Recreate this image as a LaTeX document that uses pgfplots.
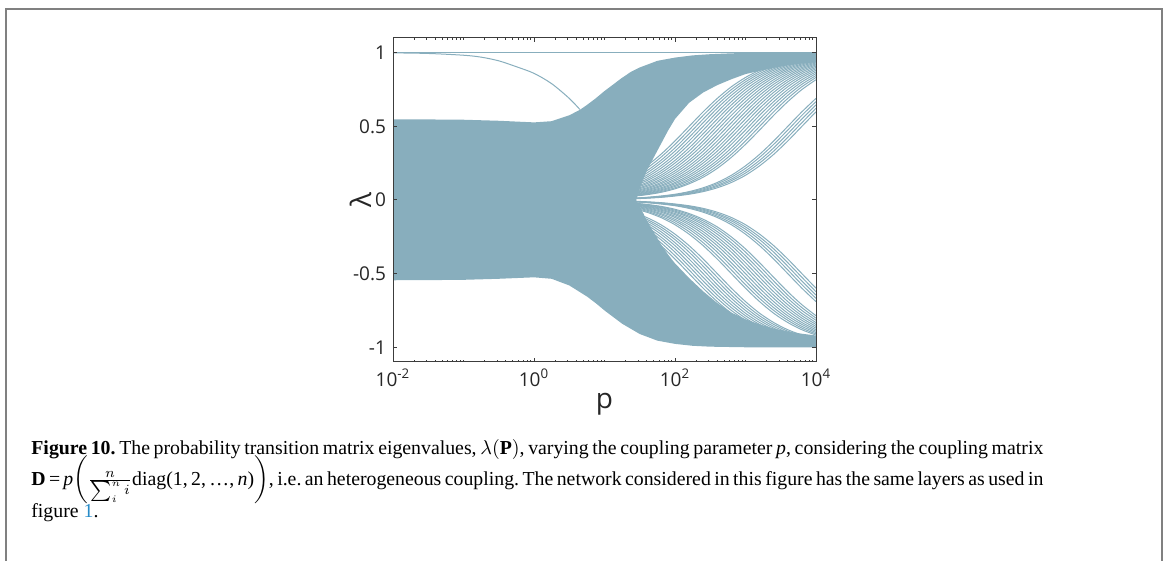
\documentclass[border=0pt]{standalone}
\usepackage{fontspec}
\setmainfont{Liberation Serif}
\newfontfamily\axfont{Open Sans}
\usepackage{pgfplots}
\pgfplotsset{compat=1.18}
\usepackage{pgfplotstable}
\definecolor{bandc}{RGB}{136,174,189}
\definecolor{framec}{RGB}{128,128,128}
\definecolor{axc}{RGB}{60,60,60}
\definecolor{linkc}{RGB}{40,140,200}

% upper fan of eigenvalue curves (p, lambda)
\pgfplotstableread{
p m22 m23 m24 m25 m26 m27 m28 m29 m30 m31 m32 m36 m37 m38
25.12 0.168 0.142 0.119 0.100 0.083 0.069 0.057 0.047 0.039 0.032 0.027 0.012 0.010 0.008
39.81 0.232 0.198 0.168 0.142 0.119 0.100 0.083 0.069 0.057 0.047 0.039 0.018 0.015 0.012
63.10 0.310 0.269 0.232 0.198 0.168 0.142 0.119 0.100 0.083 0.069 0.057 0.027 0.022 0.018
100 0.401 0.354 0.310 0.269 0.232 0.198 0.168 0.142 0.119 0.100 0.083 0.039 0.032 0.027
158.5 0.500 0.450 0.401 0.354 0.310 0.269 0.232 0.198 0.168 0.142 0.119 0.057 0.047 0.039
251.2 0.599 0.550 0.500 0.450 0.401 0.354 0.310 0.269 0.232 0.198 0.168 0.083 0.069 0.057
398.1 0.690 0.646 0.599 0.550 0.500 0.450 0.401 0.354 0.310 0.269 0.232 0.119 0.100 0.083
631.0 0.769 0.731 0.690 0.646 0.599 0.550 0.500 0.450 0.401 0.354 0.310 0.168 0.142 0.119
1000 0.832 0.802 0.769 0.731 0.690 0.646 0.599 0.550 0.500 0.450 0.401 0.232 0.198 0.168
1585 0.881 0.858 0.832 0.802 0.769 0.731 0.690 0.646 0.599 0.550 0.500 0.310 0.269 0.232
2512 0.917 0.900 0.881 0.858 0.832 0.802 0.769 0.731 0.690 0.646 0.599 0.401 0.354 0.310
3981 0.943 0.931 0.917 0.900 0.881 0.858 0.832 0.802 0.769 0.731 0.690 0.500 0.450 0.401
6310 0.961 0.953 0.943 0.931 0.917 0.900 0.881 0.858 0.832 0.802 0.769 0.599 0.550 0.500
10000 0.973 0.968 0.961 0.953 0.943 0.931 0.917 0.900 0.881 0.858 0.832 0.690 0.646 0.599
}\upperfan

\pgfplotstableread{
p m225 m235 m245 m255 m265 m275 m285 m295 m305 m315 m325 m365 m375
25.12 0.155 0.131 0.110 0.092 0.076 0.063 0.052 0.043 0.036 0.030 0.025 0.011 0.009
39.81 0.215 0.183 0.155 0.131 0.110 0.092 0.076 0.063 0.052 0.043 0.036 0.017 0.014
63.10 0.290 0.251 0.215 0.183 0.155 0.131 0.110 0.092 0.076 0.063 0.052 0.025 0.020
100 0.378 0.332 0.290 0.251 0.215 0.183 0.155 0.131 0.110 0.092 0.076 0.036 0.030
158.5 0.475 0.426 0.378 0.332 0.290 0.251 0.215 0.183 0.155 0.131 0.110 0.052 0.043
251.2 0.575 0.525 0.475 0.426 0.378 0.332 0.290 0.251 0.215 0.183 0.155 0.076 0.063
398.1 0.668 0.623 0.575 0.525 0.475 0.426 0.378 0.332 0.290 0.251 0.215 0.110 0.092
631.0 0.750 0.711 0.668 0.623 0.575 0.525 0.475 0.426 0.378 0.332 0.290 0.155 0.131
1000 0.817 0.786 0.750 0.711 0.668 0.623 0.575 0.525 0.475 0.426 0.378 0.215 0.183
1585 0.870 0.845 0.817 0.786 0.750 0.711 0.668 0.623 0.575 0.525 0.475 0.290 0.251
2512 0.909 0.891 0.870 0.845 0.817 0.786 0.750 0.711 0.668 0.623 0.575 0.378 0.332
3981 0.937 0.924 0.909 0.891 0.870 0.845 0.817 0.786 0.750 0.711 0.668 0.475 0.426
6310 0.957 0.948 0.937 0.924 0.909 0.891 0.870 0.845 0.817 0.786 0.750 0.575 0.525
10000 0.971 0.965 0.957 0.948 0.937 0.924 0.909 0.891 0.870 0.845 0.817 0.668 0.623
}\upperfanb

% lower fan of eigenvalue curves
\pgfplotstableread{
p m22 m23 m24 m25 m26 m28 m29 m30 m31 m32 m33 m36 m37 m38
25.12 -0.168 -0.142 -0.119 -0.100 -0.083 -0.057 -0.047 -0.039 -0.032 -0.027 -0.022 -0.012 -0.010 -0.008
39.81 -0.232 -0.198 -0.168 -0.142 -0.119 -0.083 -0.069 -0.057 -0.047 -0.039 -0.032 -0.018 -0.015 -0.012
63.10 -0.310 -0.269 -0.232 -0.198 -0.168 -0.119 -0.100 -0.083 -0.069 -0.057 -0.047 -0.027 -0.022 -0.018
100 -0.401 -0.354 -0.310 -0.269 -0.232 -0.168 -0.142 -0.119 -0.100 -0.083 -0.069 -0.039 -0.032 -0.027
158.5 -0.500 -0.450 -0.401 -0.354 -0.310 -0.232 -0.198 -0.168 -0.142 -0.119 -0.100 -0.057 -0.047 -0.039
251.2 -0.599 -0.550 -0.500 -0.450 -0.401 -0.310 -0.269 -0.232 -0.198 -0.168 -0.142 -0.083 -0.069 -0.057
398.1 -0.690 -0.646 -0.599 -0.550 -0.500 -0.401 -0.354 -0.310 -0.269 -0.232 -0.198 -0.119 -0.100 -0.083
631.0 -0.769 -0.731 -0.690 -0.646 -0.599 -0.500 -0.450 -0.401 -0.354 -0.310 -0.269 -0.168 -0.142 -0.119
1000 -0.832 -0.802 -0.769 -0.731 -0.690 -0.599 -0.550 -0.500 -0.450 -0.401 -0.354 -0.232 -0.198 -0.168
1585 -0.881 -0.858 -0.832 -0.802 -0.769 -0.690 -0.646 -0.599 -0.550 -0.500 -0.450 -0.310 -0.269 -0.232
2512 -0.917 -0.900 -0.881 -0.858 -0.832 -0.769 -0.731 -0.690 -0.646 -0.599 -0.550 -0.401 -0.354 -0.310
3981 -0.943 -0.931 -0.917 -0.900 -0.881 -0.832 -0.802 -0.769 -0.731 -0.690 -0.646 -0.500 -0.450 -0.401
6310 -0.961 -0.953 -0.943 -0.931 -0.917 -0.881 -0.858 -0.832 -0.802 -0.769 -0.731 -0.599 -0.550 -0.500
10000 -0.973 -0.968 -0.961 -0.953 -0.943 -0.917 -0.900 -0.881 -0.858 -0.832 -0.802 -0.690 -0.646 -0.599
}\lowerfan

\pgfplotstableread{
p m225 m235 m245 m255 m285 m295 m305 m315 m325 m335 m365 m375
25.12 -0.155 -0.131 -0.110 -0.092 -0.052 -0.043 -0.036 -0.030 -0.025 -0.020 -0.011 -0.009
39.81 -0.215 -0.183 -0.155 -0.131 -0.076 -0.063 -0.052 -0.043 -0.036 -0.030 -0.017 -0.014
63.10 -0.290 -0.251 -0.215 -0.183 -0.110 -0.092 -0.076 -0.063 -0.052 -0.043 -0.025 -0.020
100 -0.378 -0.332 -0.290 -0.251 -0.155 -0.131 -0.110 -0.092 -0.076 -0.063 -0.036 -0.030
158.5 -0.475 -0.426 -0.378 -0.332 -0.215 -0.183 -0.155 -0.131 -0.110 -0.092 -0.052 -0.043
251.2 -0.575 -0.525 -0.475 -0.426 -0.290 -0.251 -0.215 -0.183 -0.155 -0.131 -0.076 -0.063
398.1 -0.668 -0.623 -0.575 -0.525 -0.378 -0.332 -0.290 -0.251 -0.215 -0.183 -0.110 -0.092
631.0 -0.750 -0.711 -0.668 -0.623 -0.475 -0.426 -0.378 -0.332 -0.290 -0.251 -0.155 -0.131
1000 -0.817 -0.786 -0.750 -0.711 -0.575 -0.525 -0.475 -0.426 -0.378 -0.332 -0.215 -0.183
1585 -0.870 -0.845 -0.817 -0.786 -0.668 -0.623 -0.575 -0.525 -0.475 -0.426 -0.290 -0.251
2512 -0.909 -0.891 -0.870 -0.845 -0.750 -0.711 -0.668 -0.623 -0.575 -0.525 -0.378 -0.332
3981 -0.937 -0.924 -0.909 -0.891 -0.817 -0.786 -0.750 -0.711 -0.668 -0.623 -0.475 -0.426
6310 -0.957 -0.948 -0.937 -0.924 -0.870 -0.845 -0.817 -0.786 -0.750 -0.711 -0.575 -0.525
10000 -0.971 -0.965 -0.957 -0.948 -0.909 -0.891 -0.870 -0.845 -0.817 -0.786 -0.668 -0.623
}\lowerfanb

\begin{document}
\begin{tikzpicture}
\path[use as bounding box] (0pt,0pt) rectangle (584pt,-280.5pt);
\draw[framec, line width=1pt] (3pt,-280.5pt) -- (3pt,-4.5pt) -- (581pt,-4.5pt) -- (581pt,-280.5pt);

\begin{axis}[
  at={(196.5pt,-181pt)}, anchor=south west,
  scale only axis, width=211.5pt, height=162pt,
  xmode=log, log basis x=10,
  xmin=0.01, xmax=10000, ymin=-1.1, ymax=1.1,
  axis on top,
  /pgf/number format/assume math mode=true,
  xtick={0.01,1,100,10000},
  xticklabels={10\textsuperscript{-2},10\textsuperscript{0},10\textsuperscript{2},10\textsuperscript{4}},
  minor xtick={0.02,0.03,0.04,0.05,0.06,0.07,0.08,0.09,0.1,0.2,0.3,0.4,0.5,0.6,0.7,0.8,0.9,2,3,4,5,6,7,8,9,10,20,30,40,50,60,70,80,90,200,300,400,500,600,700,800,900,1000,2000,3000,4000,5000,6000,7000,8000,9000},
  ytick={-1,-0.5,0,0.5,1},
  yticklabels={-1,-0.5,0,0.5,1},
  tick align=inside,
  major tick length=2pt, minor tick length=1pt,
  tick style={axc, line width=0.5pt},
  axis line style={axc, line width=0.5pt},
  tick label style={font=\axfont\fontsize{9.5}{11}\selectfont, text=black!85},
  xlabel={p}, ylabel={λ},
  label style={font=\axfont\fontsize{14}{16}\selectfont, text=black!85},
  xlabel style={at={(axis description cs:0.5,-0.145)}, anchor=base},
  ylabel style={at={(axis description cs:-0.075,0.5)}, anchor=center},
]
% main eigenvalue band
\addplot[fill=bandc, draw=none] coordinates {
 (0.01,0.548) (0.0316,0.547) (0.1,0.545) (0.3162,0.538) (1,0.527) (1.778,0.535)
 (3.162,0.575) (4.467,0.612) (5.623,0.645) (7.499,0.69) (10,0.74) (13.34,0.785)
 (17.78,0.83) (23.71,0.87) (31.62,0.90) (56.23,0.945) (100,0.967) (177.8,0.982)
 (316.2,0.99) (562.3,0.995) (1000,0.999) (10000,1.0)
 (10000,0.935) (6310,0.927) (3981,0.915) (2512,0.897) (1585,0.877) (1000,0.855)
 (631,0.82) (398.1,0.78) (251.2,0.73) (158.5,0.66) (100,0.55) (79.43,0.47)
 (63.1,0.38) (50.12,0.29) (39.81,0.2) (35.48,0.14) (31.62,0.08) (28.18,0.0)
 (31.62,-0.05) (35.48,-0.09) (39.81,-0.14) (50.12,-0.22) (63.1,-0.3) (79.43,-0.37)
 (100,-0.43) (158.5,-0.53) (251.2,-0.62) (398.1,-0.7) (631,-0.765) (1000,-0.81)
 (1585,-0.845) (2512,-0.873) (3981,-0.893) (6310,-0.908) (10000,-0.92)
 (10000,-1.0) (1000,-1.0) (316.2,-0.996) (177.8,-0.99) (100,-0.977) (56.23,-0.955)
 (31.62,-0.91) (23.71,-0.875) (17.78,-0.84) (13.34,-0.795) (10,-0.75) (7.499,-0.70)
 (5.623,-0.655) (3.162,-0.58) (1.778,-0.535) (1,-0.525) (0.3162,-0.535) (0.1,-0.542)
 (0.0316,-0.544) (0.01,-0.545)
} -- cycle;
% fan curves
\pgfplotsinvokeforeach{m22,m23,m24,m25,m26,m27,m28,m29,m30,m31,m32,m36,m37,m38}{
  \addplot[bandc, line width=0.5pt, smooth] table[x=p, y=#1] {\upperfan};
}
\pgfplotsinvokeforeach{m225,m235,m245,m255,m265,m275,m285,m295,m305,m315,m325,m365,m375}{
  \addplot[bandc, line width=0.5pt, smooth] table[x=p, y=#1] {\upperfanb};
}
\pgfplotsinvokeforeach{m22,m23,m24,m25,m26,m28,m29,m30,m31,m32,m33,m36,m37,m38}{
  \addplot[bandc, line width=0.5pt, smooth] table[x=p, y=#1] {\lowerfan};
}
\pgfplotsinvokeforeach{m225,m235,m245,m255,m285,m295,m305,m315,m325,m335,m365,m375}{
  \addplot[bandc, line width=0.5pt, smooth] table[x=p, y=#1] {\lowerfanb};
}
% leading eigenvalue and second eigenvalue
\addplot[bandc, line width=0.5pt] coordinates {(0.01,1) (10000,1)};
\addplot[bandc, line width=0.5pt, smooth] coordinates {
 (0.01,0.999) (0.0316,0.995) (0.1,0.983) (0.1778,0.97) (0.3162,0.945) (0.5623,0.905)
 (1,0.86) (1.778,0.79) (3.162,0.69) (4.467,0.615)
};
\end{axis}

\begin{scope}[every node/.style={anchor=base west, inner sep=0pt, font=\fontsize{9.9}{12}\selectfont\frenchspacing}]
\node at (15.5pt,-227pt) {\makebox[506pt][s]{\textbf{Figure 10.} The probability transition matrix eigenvalues, $\lambda(\mathbf{P})$, varying the coupling parameter \textit{p}, considering the coupling matrix}};
\node at (15.5pt,-242.5pt) {\makebox[506pt][s]{\textbf{D}\,=\,\textit{p}$\biggl(\frac{n}{\sum_{i}^{n}i}$diag(1, 2, \dots, \textit{n})$\biggr)$, i.e. an heterogeneous coupling. The network considered in this figure has the same layers as used in}};
\node at (15.5pt,-258.5pt) {figure \textcolor{linkc}{1}.};
\end{scope}
\end{tikzpicture}
\end{document}
